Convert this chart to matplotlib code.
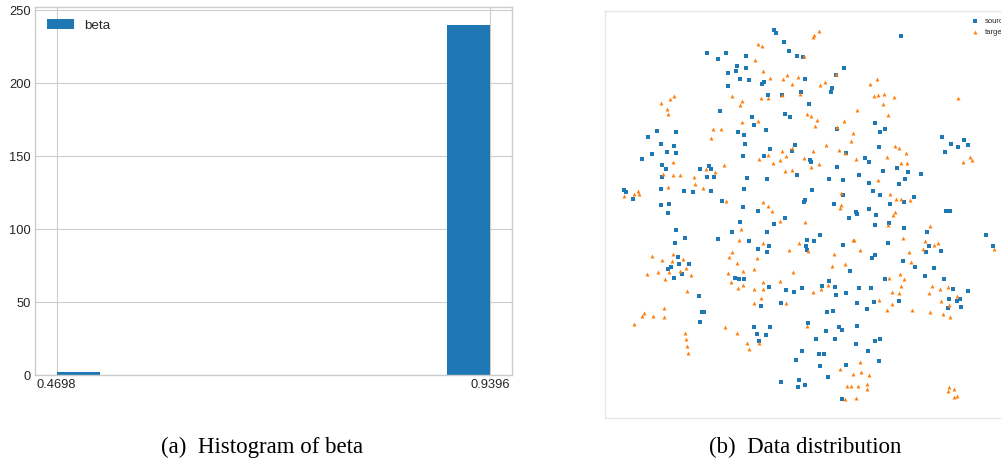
import numpy as np
import matplotlib.pyplot as plt

# histogram of beta: two distinct values and how often they occur
beta_values = [0.4698, 0.9396]
beta_counts = [2, 240]

# 2-D embedding of the samples (arbitrary units)
source_xy = [(52.2,9.1),(52.7,10.0),(55.2,12.7),(90.4,10.8),(56.6,15.4),(32.0,16.0),(37.7,15.9),(35.3,17.7),(43.9,16.7),(59.1,16.7),
             (60.8,17.2),(41.2,19.8),(40.7,21.3),(43.8,20.4),(38.5,21.8),(73.1,20.3),(42.1,23.7),(44.7,24.0),(49.2,24.7),(48.7,25.1),
             (61.5,23.8),(70.7,22.6),(38.5,25.9),(69.6,26.5),(69.2,27.5),(60.4,27.6),(50.3,28.4),(54.6,28.4),(62.7,31.2),(36.1,33.4),
             (55.6,34.3),(56.9,35.1),(45.7,35.2),(46.1,37.6),(49.8,39.1),(41.4,39.5),(43.2,40.4),(82.6,36.8),(85.4,38.6),(83.9,39.6),
             (71.2,38.7),(17.2,39.3),(22.7,39.7),(14.5,41.2),(102.7,41.1),(109.1,41.9),(18.3,43.1),(22.1,43.8),(43.5,43.3),(105.4,43.1),
             (107.4,44.1),(110.5,43.5),(58.6,43.4),(83.8,44.0),(51.0,44.8),(57.6,45.3),(20.1,45.7),(22.8,45.9),(15.5,46.2),(12.7,47.7),
             (43.0,46.7),(49.2,46.9),(63.1,47.9),(63.4,48.6),(79.4,47.5),(80.8,48.6),(73.8,45.8),(103.6,45.7),(18.5,49.4),(19.7,50.8),
             (18.7,53.0),(30.1,50.8),(32.6,49.9),(33.2,50.8),(32.0,53.1),(34.3,53.2),(44.0,53.3),(50.0,53.7),(59.2,52.4),(68.8,53.6),
             (71.0,50.0),(72.9,54.1),(77.7,52.5),(84.8,51.4),(89.2,50.4),(92.5,51.7),(96.3,52.3),(91.6,53.8),(80.6,54.9),(89.6,55.1),
             (7.3,56.9),(7.9,57.6),(10.0,59.8),(18.3,56.7),(25.3,57.2),(27.8,57.6),(33.4,57.4),(43.2,56.6),(63.5,56.9),(73.0,58.6),
             (81.8,57.3),(83.9,58.4),(94.1,59.1),(18.2,61.4),(20.6,61.2),(20.4,63.8),(36.7,60.4),(43.0,62.1),(47.3,63.4),(61.6,60.1),
             (61.3,60.6),(70.2,61.3),(76.7,63.5),(77.2,64.3),(80.8,62.6),(82.8,64.6),(74.8,65.5),(86.9,61.1),(91.3,60.6),(103.8,63.4),
             (105.0,63.3),(55.4,65.3),(52.3,67.3),(42.1,66.7),(82.4,67.5),(86.8,67.0),(91.3,68.3),(22.9,69.1),(25.5,71.5),(22.4,73.0),
             (35.5,71.8),(39.7,69.5),(44.8,72.4),(50.2,69.5),(50.6,73.7),(47.5,74.8),(50.1,75.7),(62.2,71.9),(64.3,72.4),(66.1,70.5),
             (61.8,73.8),(62.1,75.1),(73.0,73.6),(86.5,72.8),(98.2,69.7),(98.6,73.7),(97.9,75.7),(102.2,75.2),(115.9,70.5),(118.0,73.9),
             (82.5,76.4),(81.7,77.3),(23.5,77.2),(23.8,79.2),(26.8,79.3),(21.4,80.1),(20.4,80.8),(24.6,82.2),(22.3,83.5),(91.0,78.2),
             (94.6,80.1),(100.1,80.3),(75.0,81.4),(97.6,82.7),(40.6,83.5),(41.8,83.7),(43.3,83.6),(50.7,86.2),(55.8,87.1),(58.1,87.6),
             (60.6,86.5),(66.7,85.7),(68.6,84.2),(70.4,86.0),(70.7,88.4),(73.7,87.9),(77.7,86.5),(81.2,86.5),(85.4,83.6),(103.3,83.7),
             (105.9,86.6),(110.3,87.4),(104.8,89.7),(108.1,89.8),(107.0,90.4),(108.2,92.1),(104.5,92.5),(89.8,90.3),(82.1,90.7),(77.0,90.8),
             (80.2,92.8),(29.8,88.9),(30.7,93.5),(31.3,93.7),(30.0,96.5),(48.2,91.7),(54.2,90.8),(68.1,93.5),(70.0,93.3),(62.5,96.9),
             (46.3,98.0),(51.1,98.0),(47.1,100.1),(49.8,100.4),(47.8,102.2),(71.7,98.2),(72.7,99.1),(77.1,97.8),(67.7,99.2),(64.9,101.6),
             (70.4,101.6),(82.6,102.3),(84.1,101.8),(76.8,103.3),(60.7,105.2),(80.3,105.2),(65.6,106.1),(67.2,106.2),(58.7,108.1),(83.8,108.4),
             (65.9,109.8),(73.9,109.6),(68.3,113.1),(54.2,114.5),(59.7,114.0),(61.5,115.5),(59.4,116.1),(72.7,119.8)]

target_xy = [(65.6,9.2),(64.1,10.5),(63.8,11.2),(47.5,13.1),(48.7,13.9),(61.1,16.7),(46.5,18.1),(48.8,21.4),(50.9,23.3),(56.0,22.5),
             (54.9,23.7),(59.3,23.1),(57.7,25.3),(70.9,22.3),(66.0,25.6),(67.4,24.7),(83.2,23.8),(80.9,25.3),(22.3,28.7),(20.9,29.8),
             (18.4,30.8),(20.1,32.8),(20.3,34.2),(39.5,28.8),(42.7,30.4),(42.0,31.6),(48.4,29.5),(50.3,29.3),(54.7,28.6),(60.1,28.1),
             (82.1,28.7),(83.3,28.5),(85.1,28.1),(88.3,29.0),(84.9,31.3),(107.5,29.5),(77.2,33.0),(86.4,34.6),(62.0,34.1),(63.2,34.7),
             (65.1,36.1),(64.6,37.8),(42.7,36.6),(47.5,36.3),(33.9,38.7),(36.4,38.8),(33.4,41.5),(71.1,38.1),(73.2,36.3),(75.9,40.0),
             (75.3,42.2),(67.9,43.6),(71.7,45.1),(73.6,45.9),(76.7,47.7),(88.5,43.9),(89.8,44.4),(91.9,46.0),(86.2,47.0),(90.2,49.0),
             (92.0,49.0),(111.0,47.0),(111.7,48.1),(108.9,48.7),(63.8,45.2),(61.1,47.3),(65.6,49.3),(63.4,50.2),(54.6,45.2),(55.9,46.7),
             (57.7,44.3),(50.4,46.6),(47.7,47.6),(51.9,49.0),(53.9,48.1),(55.6,51.4),(57.5,51.0),(22.0,48.5),(37.3,49.5),(18.8,52.1),
             (22.0,52.4),(24.0,52.4),(28.2,53.1),(31.8,50.8),(34.4,51.6),(28.5,55.3),(30.9,56.3),(20.4,56.0),(7.3,58.9),(10.3,58.2),
             (11.5,57.4),(11.8,58.1),(37.8,60.3),(49.0,60.6),(50.5,61.7),(51.6,63.3),(72.4,58.0),(72.3,61.5),(72.1,62.5),(83.4,54.1),
             (87.1,58.3),(88.8,59.7),(90.2,59.6),(93.1,60.1),(88.5,63.6),(88.0,64.5),(86.4,67.6),(61.6,66.5),(53.9,66.3),(42.4,68.8),
             (41.8,71.9),(48.8,73.0),(56.8,74.9),(59.7,73.0),(62.5,75.4),(75.8,71.9),(76.2,72.0),(78.0,75.0),(70.3,76.3),(69.6,79.7),
             (73.6,79.3),(58.0,81.6),(54.1,84.2),(49.0,84.6),(49.0,86.6),(46.1,86.6),(43.0,85.5),(41.5,86.4),(39.2,84.5),(38.4,82.0),
             (42.8,81.2),(46.3,80.8),(41.1,79.0),(38.8,77.2),(39.7,75.5),(47.0,77.5),(91.0,71.5),(92.8,75.5),(93.4,78.7),(97.6,72.2),
             (96.8,74.7),(101.3,72.9),(99.1,67.9),(100.3,73.6),(90.1,82.2),(91.3,83.7),(86.6,83.4),(90.4,85.9),(87.7,87.7),(89.8,88.0),
             (87.7,91.1),(83.8,90.1),(86.0,93.1),(93.7,93.0),(99.6,85.7),(98.7,87.8),(102.1,86.7),(104.3,86.0),(107.1,88.8),(102.2,90.2),
             (104.7,91.5),(99.0,93.6),(102.9,94.2),(104.9,95.2),(68.5,85.5),(66.4,86.6),(63.9,87.7),(55.9,90.8),(46.1,91.0),(48.3,89.3),
             (21.8,76.2),(18.7,78.1),(21.7,78.3),(24.9,77.8),(15.7,76.9),(17.5,81.5),(20.8,81.5),(14.2,82.1),(19.6,83.8),(24.1,81.4),
             (25.7,80.5),(27.2,82.6),(26.2,87.4),(19.3,92.3),(13.2,94.0),(12.5,94.8),(15.9,94.7),(19.2,95.2),(10.1,97.3),(25.4,99.8),
             (25.8,101.8),(26.1,103.9),(26.4,106.0),(37.6,98.1),(41.2,99.9),(44.1,102.8),(47.7,102.9),(44.7,104.8),(62.1,97.7),(78.1,108.7),
             (71.9,110.7),(78.3,111.7),(75.8,112.3),(80.7,112.6),(80.2,115.1),(74.0,115.7),(75.4,115.7),(77.4,115.9),(80.2,116.7),(76.9,119.3),
             (73.5,119.8),(104.8,116.2),(106.2,116.7),(104.4,117.3),(107.2,118.8),(106.2,119.2),(118.1,74.6)]

captions = ['(a)  Histogram of beta', '(b)  Data distribution']

plt.style.use('seaborn-v0_8-whitegrid')
plt.rcParams['font.family'] = ['Liberation Sans', 'DejaVu Sans']

fig = plt.figure(figsize=(10.01, 4.59), dpi=100)

# ----- left: histogram -----
ax1 = fig.add_axes([0.035, 0.183, 0.4762, 0.8007])
beta = np.repeat(beta_values, beta_counts)
ax1.hist(beta, bins=10, color='#1f77b4', label='beta')
ax1.set_xticks(beta_values)
ax1.set_xticklabels([f'{v:.4f}' for v in beta_values])
ax1.set_yticks([0, 50, 100, 150, 200, 250])
ax1.tick_params(labelsize=9.3, pad=3)
ax1.legend(loc='upper left', fontsize=9.6)

# ----- right: scatter -----
ax2 = fig.add_axes([0.6041, 0.0887, 0.41, 0.888])
src = np.array(source_xy)
tgt = np.array(target_xy)
ax2.scatter(src[:, 0], src[:, 1], s=6.5, marker='s', color='#1f77b4', linewidths=0, label='source')
ax2.scatter(tgt[:, 0], tgt[:, 1], s=8, marker='^', color='#ff7f0e', linewidths=0, label='target')
ax2.set_xlim(1.4, 124.5)
ax2.set_ylim(125.5, 3.2)
ax2.set_xticks([])
ax2.set_yticks([])
for sp in ax2.spines.values():
    sp.set_edgecolor('#e6e6e6')
# the figure is cropped on the right, so the legend labels are cut off as in the source
ax2.legend(loc='upper right', fontsize=5.5, handletextpad=0.4)

# captions under the panels
fig.text(262 / 1001, 1 - 447 / 459, captions[0], ha='center', va='center',
         fontsize=16.5, family='Liberation Serif', color='black')
fig.text(805 / 1001, 1 - 447 / 459, captions[1], ha='center', va='center',
         fontsize=16.5, family='Liberation Serif', color='black')

fig.savefig('out.png', dpi=100)
